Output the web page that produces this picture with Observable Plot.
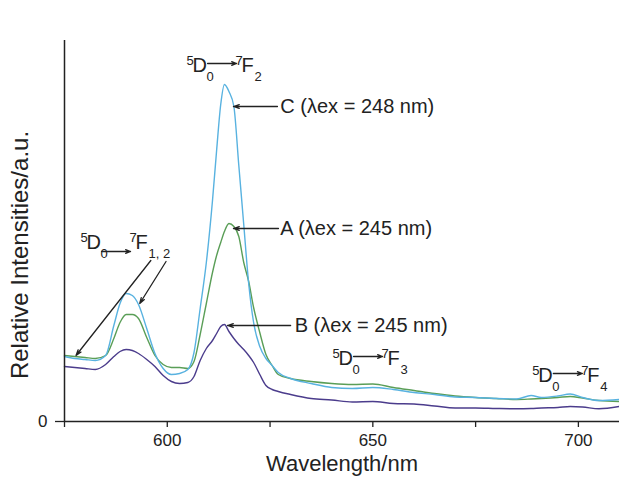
<!DOCTYPE html>
<html>
<head>
<meta charset="utf-8">
<script src="https://cdn.jsdelivr.net/npm/d3@7"></script>
<script src="https://cdn.jsdelivr.net/npm/@observablehq/plot@0.6"></script>
<style>
  html, body { margin: 0; padding: 0; background: #fff; }
  #chart svg { display: block; }
</style>
</head>
<body>
<div id="chart"></div>
<script>
// ---- data ----
const wavelength = [575, 577.5, 580, 582.5, 585, 587, 588.5, 590, 591.5, 593, 595, 597, 599, 601, 603, 605, 606.5, 608, 609.5, 611, 612, 613, 613.9, 615, 616.2, 617.4, 618.6, 619.8, 621, 622.5, 624, 625.5, 627, 630, 635, 640, 645, 650, 655, 660, 665, 670, 675, 680, 685, 688.5, 691, 695, 698, 701, 705, 710];
const seriesA = [66, 65, 64, 63, 66, 83, 99, 107, 107, 103, 84, 66, 57, 54, 54, 53, 60, 87, 118, 149, 166, 179, 190, 198, 195, 185, 159, 140, 114, 89, 67, 56, 47, 43, 40, 38, 37, 37.5, 34, 31, 28, 25.5, 24, 23, 22, 22.5, 23, 24, 25, 23.5, 21, 20];
const seriesB = [55, 54, 53, 52, 57, 65, 70, 72, 71, 68, 62, 55, 46, 40, 38, 39, 45, 61, 73, 81, 88, 95, 97, 90, 83, 77, 72, 66, 59, 47, 36, 32, 30, 27, 23, 21.5, 19.5, 20, 18, 17.5, 15.5, 13.5, 13.5, 13, 12.7, 13, 13.5, 14, 15, 14.5, 12.7, 15];
const seriesC = [65, 63, 62, 61, 66, 96, 118, 128, 126, 117, 93, 68, 53, 47, 48, 52, 69, 113, 159, 221, 271, 317, 337, 330, 315, 256, 197, 138, 99, 75, 63, 56, 49, 43, 38, 34, 33, 34, 32, 29, 27, 24.5, 24, 23, 22.5, 26, 24, 25.5, 27.5, 24, 21, 22];

const xTicks = [600, 650, 700];
const xMinorTicks = [575, 625, 675];
const yTicks = [0];

// curve annotations (data units)
const peakLabels = ["C (λex = 248 nm)", "A (λex = 245 nm)", "B (λex = 245 nm)"];
const peakArrowFrom = [626.8, 627.05, 630.0];
const peakArrowTo = [616.1, 616.1, 614.65];
const peakLevel = [315, 193, 96];
const peakTextX = [627.5, 627.5, 631.0];

// transition labels 5D0 -> 7Fj (data units of the label's left / baseline)
const termSub = ["1, 2", "2", "3", "4"];
const termX = [578.9, 604.7, 640.2, 688.8];
const termY = [172, 349, 56, 39];
const termArrowLift = [-2, 9, 9, 9];

// pointer arrows from the 7F1,2 label
const ptrFromX = [596.0, 599.7];
const ptrFromY = [161, 160];
const ptrToX = [577.8, 593.3];
const ptrToY = [66, 118];

// ---- layout ----
const W = 619, H = 484;
const mL = 64, mR = 0, mT = 40, mB = 63;
const xDomain = [575, 710];
const yDomain = [0, 381];
const kx = (W - mL - mR) / (xDomain[1] - xDomain[0]);
const ky = (H - mT - mB) / (yDomain[1] - yDomain[0]);

const fontFamily = "'Liberation Sans', Arial, Helvetica, sans-serif";
const ink = "#222";
const colA = "#5a9e57", colB = "#4b3c8c", colC = "#58b2e0";

const idx = wavelength.map((_, i) => i);
const peakIdx = peakLabels.map((_, i) => i);
const termIdx = termSub.map((_, i) => i);
const ptrIdx = ptrFromX.map((_, i) => i);

const seriesLine = (vals, color) => Plot.line(idx, {
  x: i => wavelength[i], y: i => vals[i],
  stroke: color, strokeWidth: 1.4, curve: "monotone-x"
});

const termPart = (text, dx, dy, size) => Plot.text(termIdx, {
  x: i => termX[i], y: i => termY[i], text, dx, dy,
  fontSize: size, textAnchor: "start", lineAnchor: "middle", fill: ink
});

const chart = Plot.plot({
  width: W, height: H,
  marginLeft: mL, marginRight: mR, marginTop: mT, marginBottom: mB,
  style: {fontFamily, color: ink, background: "white", overflow: "visible"},
  x: {domain: xDomain, label: null},
  y: {domain: yDomain, label: null},
  marks: [
    seriesLine(seriesB, colB),
    seriesLine(seriesA, colA),
    seriesLine(seriesC, colC),
    Plot.ruleY([0], {stroke: ink, strokeWidth: 1.5}),
    Plot.ruleX([575], {stroke: ink, strokeWidth: 1.5}),
    Plot.axisX(xTicks, {tickSize: 6, tickPadding: 6, fontSize: 17, stroke: ink, strokeWidth: 1.3, label: null}),
    Plot.axisX(xMinorTicks, {tickSize: 6, tickFormat: () => "", stroke: ink, strokeWidth: 1.3, label: null}),
    Plot.axisY(yTicks, {tickSize: 9, tickPadding: 8, fontSize: 17, stroke: ink, strokeWidth: 1.3, label: null}),
    Plot.text(["Relative Intensities/a.u."], {
      text: d => d, frameAnchor: "left", dx: -44, dy: 24, rotate: -90,
      fontSize: 24, textAnchor: "middle", lineAnchor: "middle", fill: ink
    }),
    Plot.text(["Wavelength/nm"], {
      text: d => d, frameAnchor: "bottom", dy: 42,
      fontSize: 22, textAnchor: "middle", lineAnchor: "middle", fill: ink
    }),
    // curve annotations
    Plot.arrow(peakIdx, {
      x1: i => peakArrowFrom[i], x2: i => peakArrowTo[i],
      y1: i => peakLevel[i], y2: i => peakLevel[i],
      stroke: ink, strokeWidth: 1.3, headLength: 7, headAngle: 35
    }),
    Plot.text(peakIdx, {
      x: i => peakTextX[i], y: i => peakLevel[i], text: i => peakLabels[i],
      fontSize: 20, textAnchor: "start", lineAnchor: "middle", fill: ink
    }),
    // transition labels
    termPart(() => "5", 0, -12, 13),
    termPart(() => "D", 6, -7, 20),
    termPart(() => "0", 20, 4, 13),
    Plot.arrow(termIdx, {
      x1: i => termX[i] + 21 / kx, x2: i => termX[i] + 50 / kx,
      y1: i => termY[i] + termArrowLift[i] / ky, y2: i => termY[i] + termArrowLift[i] / ky,
      stroke: ink, strokeWidth: 1.3, headLength: 6, headAngle: 40
    }),
    termPart(() => "7", 49, -12, 13),
    termPart(() => "F", 55, -7, 20),
    termPart(i => termSub[i], 68, 4, 13),
    // pointers from 7F1,2 label
    Plot.arrow(ptrIdx, {
      x1: i => ptrFromX[i], y1: i => ptrFromY[i], x2: i => ptrToX[i], y2: i => ptrToY[i],
      stroke: ink, strokeWidth: 1.3, headLength: 7, headAngle: 35
    })
  ]
});

document.getElementById("chart").appendChild(chart);
</script>
</body>
</html>
